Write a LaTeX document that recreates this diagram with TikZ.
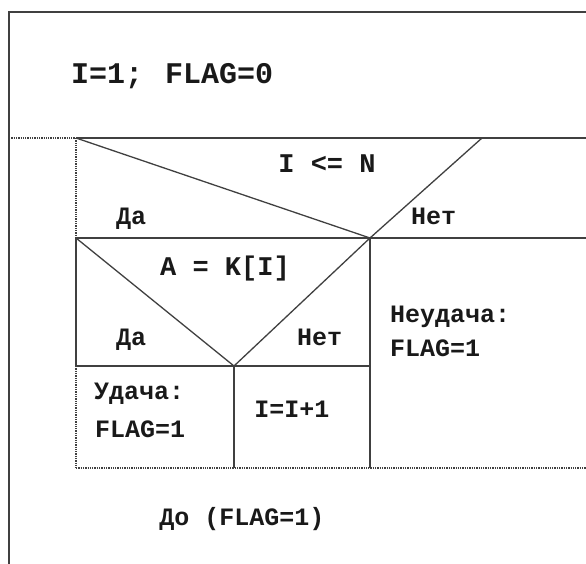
\documentclass[tikz,border=0pt]{standalone}
\usepackage{fontspec}
\newfontfamily\nsfont{Liberation Mono}[BoldFont={Liberation Mono Bold}]
\begin{document}
\begin{tikzpicture}[x=1pt,y=-1pt,
  nsline/.style={draw=black!75, line width=1.3pt},
  nsdot/.style={draw=black!75, line width=1.3pt, densely dotted},
  lbl/.style={font=\nsfont\bfseries\fontsize{25}{28}\selectfont, text=black!90, inner sep=0pt},
  biglbl/.style={lbl, font=\nsfont\bfseries\fontsize{30}{33}\selectfont},
  condlbl/.style={lbl, font=\nsfont\bfseries\fontsize{27}{30}\selectfont}]
\useasboundingbox (0,0) rectangle (586,564);
% frame coordinates
\coordinate (ftl) at (9,12);
\coordinate (ftr) at (586,12);
\coordinate (fbl) at (9,564);
\coordinate (fml) at (9,138);
\coordinate (fmr) at (586,138);
\coordinate (ia) at (76,138);
\coordinate (ib) at (76,238);
\coordinate (ic) at (76,366);
\coordinate (id) at (76,468);
\coordinate (idr) at (586,468);
\coordinate (c1r) at (482,138);
\coordinate (v1) at (370,238);
\coordinate (v1r) at (586,238);
\coordinate (v1b) at (370,468);
\coordinate (v2) at (234,366);
\coordinate (v2r) at (370,366);
\coordinate (v2b) at (234,468);
% outer frame
\draw[nsline] (fbl) -- (ftl) -- (ftr);
\draw[nsdot] (fml) -- (ia);
\draw[nsline] (ia) -- (fmr);
% inner box
\draw[nsdot] (ia) -- (ib);
\draw[nsline] (ib) -- (ic);
\draw[nsdot] (ic) -- (id);
\draw[nsdot] (id) -- (idr);
% first condition
\draw[nsline] (ia) -- (v1) -- (c1r);
\draw[nsline] (ib) -- (v1r);
\draw[nsline] (v1) -- (v1b);
% second condition
\draw[nsline] (ib) -- (v2) -- (v1);
\draw[nsline] (ic) -- (v2r);
\draw[nsline] (v2) -- (v2b);
% texts
\node[biglbl, anchor=base west] (init) at (71,84) {I=1;\hspace{22pt}FLAG=0};
\node[condlbl, anchor=base] (cond1) at (327,173) {I <= N};
\node[lbl, anchor=base west] (yes1) at (116,224) {Да};
\node[lbl, anchor=base west] (no1) at (411,224) {Нет};
\node[condlbl, anchor=base] (cond2) at (225,275) {A = K[I]};
\node[lbl, anchor=base west] (yes2) at (116,345) {Да};
\node[lbl, anchor=base west] (no2) at (297,345) {Нет};
\node[lbl, anchor=base west] (fail1) at (390,322) {Неудача:};
\node[lbl, anchor=base west] (fail2) at (390,356) {FLAG=1};
\node[lbl, anchor=base west] (ok1) at (94,399) {Удача:};
\node[lbl, anchor=base west] (ok2) at (95,437) {FLAG=1};
\node[lbl, anchor=base] (inc) at (292,417) {I=I+1};
\node[lbl, anchor=base] (until) at (242,525) {До (FLAG=1)};
\end{tikzpicture}
\end{document}
